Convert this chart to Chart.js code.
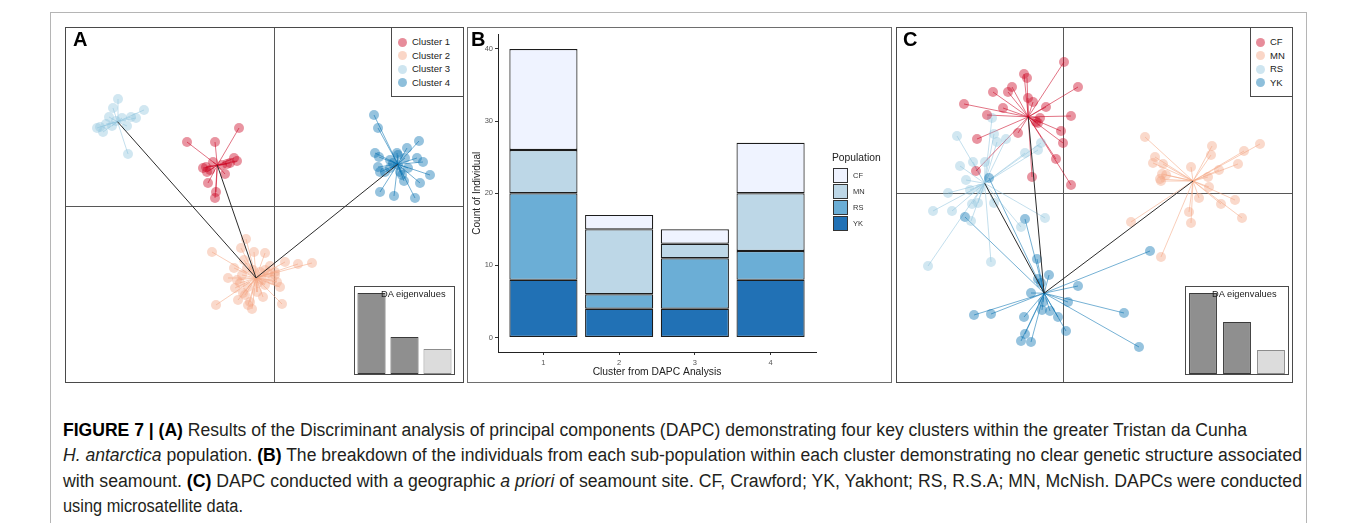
<!DOCTYPE html>
<html>
<head>
<meta charset="utf-8">
<script src="https://cdn.jsdelivr.net/npm/chart.js@4.4.1/dist/chart.umd.min.js"></script>
<style>
  html, body { margin: 0; padding: 0; background: #fff; }
  #fig { position: relative; width: 1357px; height: 523px; overflow: hidden;
         font-family: "Liberation Sans", Arial, sans-serif; color: #222; }
  .abs { position: absolute; box-sizing: border-box; white-space: nowrap; }
  canvas { position: absolute; display: block; }
  .cap { font-size: 18px; line-height: 20px; color: #231f20; transform-origin: 0 0; }
  .cap b { color: #000; }
</style>
</head>
<body>
<div id="fig"></div>
<script>
// ---------- Panel A: DAPC on the four inferred clusters (LD1, LD2) ----------
const clusterNames = ['Cluster 1', 'Cluster 2', 'Cluster 3', 'Cluster 4'];
const cluster1 = [[-8.8,6.4],[-6.0,6.4],[-3.6,7.8],[-7.2,3.8],[-6.8,3.4],[-6.7,2.3],[-6.2,4.4],[-5.0,3.2],
  [-4.8,4.2],[-4.5,4.3],[-4.1,4.8],[-3.8,4.5],[-5.9,1.4],[-6.0,0.8],[-6.5,3.6],[-5.3,4.1],[-6.9,3.9]];
const cluster2 = [[-2.9,-3.3],[-3.4,-4.2],[-2.1,-4.6],[-1.0,-4.7],[-6.3,-4.6],[-3.1,-5.4],[1.0,-5.6],[2.3,-5.8],
  [3.7,-5.7],[-4.1,-6.2],[-3.3,-6.9],[-3.8,-7.4],[-1.0,-6.4],[0.0,-6.9],[0.2,-7.6],[-0.3,-7.4],[0.5,-8.1],
  [-4.0,-8.2],[-2.7,-8.1],[-3.0,-8.9],[-3.2,-8.7],[-1.8,-8.6],[-1.2,-9.1],[-3.7,-9.4],[-2.5,-9.6],[-2.7,-9.9],
  [-2.3,-10.3],[-5.9,-9.9],[0.7,-9.8],[-1.5,-6.6],[-2.2,-6.4],[-0.7,-6.7],[-2.8,-6.2],[-4.7,-7.2],[-1.3,-7.4],
  [-1.7,-7.7],[-1.0,-7.9],[-3.5,-7.7],[0.0,-6.6],[-0.5,-6.0]];
const cluster3 = [[-15.7,10.7],[-16.2,9.8],[-16.6,8.9],[-17.5,7.9],[-17.2,7.4],[-17.8,7.8],[-14.4,8.9],[-13.9,8.8],
  [-13.1,9.6],[-14.8,8.0],[-14.7,5.2],[-15.9,8.5],[-16.9,8.2],[-15.3,8.8],[-16.3,8.0]];
const cluster4 = [[9.9,9.1],[10.3,7.8],[14.4,6.5],[13.2,5.8],[10.0,5.3],[10.4,4.9],[12.3,5.1],[14.2,4.8],[14.8,4.4],
  [11.5,4.6],[10.3,3.9],[10.5,3.4],[15.5,3.1],[14.5,2.3],[12.9,2.5],[12.7,3.1],[10.5,1.4],[11.9,1.0],[14.0,0.8],
  [11.5,3.8],[13.3,3.8],[12.3,4.1],[13.0,4.8],[12.2,5.3],[11.0,3.4],[12.5,3.4],[11.8,4.3]];
const clusterLinks = [[1,0],[1,2],[1,3]];          // minimum spanning tree between group centres
const clusterEigen = [81, 37, 25];
const clusterRetained = 2;

// ---------- Panel B: sub-population make-up of each cluster ----------
const dapcClusters = ['1', '2', '3', '4'];
const countTicks = [0, 10, 20, 30, 40];
const countYK = [8, 4, 4, 8];
const countRS = [12, 2, 7, 4];
const countMN = [6, 9, 2, 8];
const countCF = [14, 2, 2, 7];

// ---------- Panel C: DAPC with seamount site as prior ----------
const siteNames = ['CF', 'MN', 'RS', 'YK'];
const siteCF = [[0.1,13.1],[1.5,10.6],[-3.9,11.9],[-3.6,11.5],[-5.1,10.6],[-5.5,10.1],[-7.0,10.1],[-9.9,8.9],
  [-6.0,8.5],[-7.6,7.8],[-3.5,9.5],[-1.7,8.6],[0.8,7.7],[-2.3,7.5],[-2.7,7.1],[-2.5,7.0],[-0.2,6.2],[0.0,5.0],
  [-4.5,6.0],[-8.6,5.4],[-0.7,3.4],[-8.7,2.2],[-3.1,1.6],[0.8,0.8],[-3.0,9.1]];
const siteMN = [[8.2,5.6],[14.9,4.7],[14.8,3.8],[19.7,4.9],[18.1,4.2],[17.5,2.9],[9.2,3.6],[9.0,3.0],[10.0,2.9],
  [12.8,2.6],[15.6,2.3],[14.5,1.6],[9.9,1.9],[10.3,1.8],[9.8,1.2],[14.6,0.6],[13.6,-0.5],[15.8,-1.1],[17.2,-0.7],
  [12.6,-1.9],[12.8,-3.0],[17.9,-2.5],[6.8,-2.9],[9.8,-6.4],[9.7,1.4]];
const siteRS = [[-7.1,7.5],[-10.6,5.7],[-6.9,5.9],[-6.6,5.1],[-5.7,5.4],[-3.8,4.0],[-2.5,4.3],[-2.2,5.0],
  [-10.3,2.7],[-9.0,3.1],[-7.8,3.1],[-9.7,1.3],[-11.5,0.0],[-13.0,-1.8],[-11.1,-1.8],[-9.1,-1.1],[-8.5,-1.0],
  [-6.9,-1.0],[-9.2,-2.8],[-4.2,-3.4],[-1.8,-2.5],[-13.5,-7.3],[-7.2,-6.9],[-9.3,0.3],[-8.3,0.4]];
const siteYK = [[-2.6,-6.6],[-1.4,-8.2],[-2.5,-8.6],[-2.2,-9.0],[1.5,-9.3],[8.7,-5.8],[-3.2,-10.0],[0.5,-10.9],
  [-8.9,-12.2],[-7.2,-12.1],[-2.0,-10.9],[-2.1,-11.7],[-1.3,-11.8],[-3.9,-12.4],[-0.5,-12.4],[6.1,-12.0],
  [0.3,-13.8],[-3.8,-14.1],[-4.2,-14.8],[-3.2,-14.9],[7.6,-15.4],[-9.8,-2.4],[-3.8,-2.6],[-7.4,1.5]];
const siteLinks = [[3,0],[3,1],[3,2]];
const siteEigen = [81, 52, 24];
const siteRetained = 2;

// four-class palette (RdBu)
const classRGB = [[202,0,32],[244,165,130],[146,197,222],[5,113,176]];
const rgba = (i, a) => `rgba(${classRGB[i].join(',')},${a})`;
const popColours = { CF: '#eff3ff', MN: '#bdd7e7', RS: '#6baed6', YK: '#2171b5' };

Chart.defaults.font.family = '"Liberation Sans", Arial, sans-serif';

const fig = document.getElementById('fig');
function box(css, html) {
  const e = document.createElement('div');
  e.className = 'abs';
  Object.assign(e.style, css);
  if (html != null) e.innerHTML = html;
  fig.appendChild(e);
  return e;
}
function canvasAt(l, t, w, h) {
  const c = document.createElement('canvas');
  c.width = w; c.height = h;
  Object.assign(c.style, { left: l + 'px', top: t + 'px', width: w + 'px', height: h + 'px' });
  fig.appendChild(c);
  return c.getContext('2d');
}
const px = v => v + 'px';

// outer figure border
box({ left: '50px', top: '12px', width: '1257px', height: '530px', border: '1px solid #b5b5b5' });

// ---------- scatter panel (ade4 s.class style) ----------
function scatterPanel(cfg) {
  const f = cfg.frame;
  box({ left: px(f.l), top: px(f.t), width: px(f.w), height: px(f.h), border: '1px solid #4a4a4a', background: '#fff' });
  const cw = f.w - 2, ch = f.h - 2;
  const ctx = canvasAt(f.l + 1, f.t + 1, cw, ch);

  const centres = cfg.sets.map(pts => [
    pts.reduce((s, p) => s + p[0], 0) / pts.length,
    pts.reduce((s, p) => s + p[1], 0) / pts.length
  ]);
  const gap = { x: null, y: null };
  const datasets = [];
  const tree = [];
  cfg.links.forEach(([a, b]) => {
    tree.push({ x: centres[a][0], y: centres[a][1] }, { x: centres[b][0], y: centres[b][1] }, gap);
  });
  datasets.push({ data: tree, showLine: true, pointRadius: 0, borderColor: '#2b2b2b', borderWidth: 1, spanGaps: false, order: 0 });
  cfg.sets.forEach((pts, g) => {
    datasets.push({
      data: pts.map(p => ({ x: p[0], y: p[1] })), showLine: false, pointRadius: 5,
      pointBackgroundColor: rgba(g, 0.42), pointBorderColor: 'rgba(0,0,0,0)', pointBorderWidth: 0, order: 1
    });
    const star = [];
    pts.forEach(p => star.push({ x: centres[g][0], y: centres[g][1] }, { x: p[0], y: p[1] }, gap));
    datasets.push({ data: star, showLine: true, pointRadius: 0, borderColor: rgba(g, 0.55), borderWidth: 1, spanGaps: false, order: 2 });
  });

  const zeroAxis = range => ({
    type: 'linear', min: range[0], max: range[1],
    ticks: { display: false }, border: { display: false },
    grid: { drawTicks: false, lineWidth: 1, color: c => (c.tick && c.tick.value === 0) ? '#575757' : 'rgba(0,0,0,0)' },
    afterBuildTicks: s => { s.ticks = [{ value: 0 }]; }
  });
  new Chart(ctx, {
    type: 'scatter',
    data: { datasets },
    options: {
      responsive: false, animation: false, events: [],
      layout: { padding: 0, autoPadding: false },
      plugins: { legend: { display: false }, tooltip: { enabled: false } },
      scales: { x: zeroAxis(cfg.xRange), y: zeroAxis(cfg.yRange) }
    }
  });

  // panel letter
  box({ left: px(cfg.letterX), top: '28px', font: 'bold 20px "Liberation Sans", Arial, sans-serif', lineHeight: '22px', color: '#000' }, cfg.letter);

  // class legend
  const L = cfg.legend;
  box({ left: px(L.l), top: px(f.t), width: px(L.w), height: '70px', border: '1px solid #4a4a4a', background: '#fff' });
  cfg.names.forEach((name, g) => {
    const cy = 42 + g * 13.5;
    box({ left: px(L.dotX - 4.5), top: px(cy - 4.5), width: '9px', height: '9px', borderRadius: '50%', background: rgba(g, 0.45) });
    box({ left: px(L.textX), top: px(cy - 6), fontSize: '9.5px', lineHeight: '12px', color: '#222' }, name);
  });

  // eigenvalue inset
  const E = cfg.eig;
  box({ left: px(E.l), top: '286px', width: px(E.w), height: '89px', border: '1px solid #4a4a4a', background: '#fff' });
  const ectx = canvasAt(E.l + 1, 287, E.w - 2, 87);
  new Chart(ectx, {
    type: 'bar',
    data: {
      labels: cfg.eigen.map((_, i) => String(i + 1)),
      datasets: [{
        data: cfg.eigen,
        backgroundColor: cfg.eigen.map((_, i) => i < cfg.retained ? '#8f8f8f' : '#dcdcdc'),
        borderColor: cfg.eigen.map((_, i) => i < cfg.retained ? '#3a3a3a' : '#8c8c8c'),
        borderWidth: 1, borderSkipped: false, barPercentage: E.bar, categoryPercentage: 1
      }]
    },
    options: {
      responsive: false, animation: false, events: [], layout: { padding: 0, autoPadding: false },
      plugins: { legend: { display: false }, tooltip: { enabled: false } },
      scales: { x: { display: false }, y: { display: false, min: 0, max: Math.max(...cfg.eigen) * 1.075 } }
    }
  });
  box({ left: px(E.titleX), top: '290px', fontSize: '9.3px', lineHeight: '9.3px', color: '#222' }, 'DA eigenvalues');
}

scatterPanel({
  frame: { l: 65, t: 27, w: 399, h: 356 },
  xRange: [-20.9, 18.8], yRange: [-17.6, 17.8],
  sets: [cluster1, cluster2, cluster3, cluster4], names: clusterNames, links: clusterLinks,
  eigen: clusterEigen, retained: clusterRetained,
  letter: 'A', letterX: 73,
  legend: { l: 391, w: 73, dotX: 402, textX: 412 },
  eig: { l: 354, w: 101, bar: 0.85, titleX: 381 }
});

scatterPanel({
  frame: { l: 896, t: 27, w: 397, h: 356 },
  xRange: [-16.6, 22.9], yRange: [-18.9, 16.5],
  sets: [siteCF, siteMN, siteRS, siteYK], names: siteNames, links: siteLinks,
  eigen: siteEigen, retained: siteRetained,
  letter: 'C', letterX: 903,
  legend: { l: 1250, w: 43, dotX: 1260, textX: 1270 },
  eig: { l: 1185, w: 104, bar: 0.82, titleX: 1212 }
});

// ---------- Panel B: stacked bars ----------
box({ left: '467px', top: '27px', width: '425px', height: '356px', border: '1px solid #6e6e6e', background: '#fff' });
const bctx = canvasAt(468, 28, 423, 354);
const stackOrder = [['YK', countYK], ['RS', countRS], ['MN', countMN], ['CF', countCF]];
const totals = dapcClusters.map((_, i) => stackOrder.reduce((s, [, arr]) => s + arr[i], 0));
const yPad = 0.05 * Math.max(...totals);
new Chart(bctx, {
  type: 'bar',
  data: {
    datasets: stackOrder.map(([name, arr]) => ({
      label: name,
      data: arr.map((v, i) => ({ x: i + 1, y: v })),
      backgroundColor: popColours[name],
      borderColor: '#1c1c1c', borderWidth: 1.2, borderSkipped: false,
      categoryPercentage: 0.9, barPercentage: 1
    }))
  },
  options: {
    responsive: false, animation: false, events: [],
    layout: { padding: { left: 0, right: 75, top: 5, bottom: 0 }, autoPadding: false },
    plugins: { legend: { display: false }, tooltip: { enabled: false } },
    scales: {
      x: {
        type: 'linear', stacked: true, offset: false, min: 1 - 0.6, max: dapcClusters.length + 0.6,
        afterBuildTicks: s => { s.ticks = dapcClusters.map((_, i) => ({ value: i + 1 })); },
        afterFit: s => { s.height = 30; },
        ticks: { callback: (v, i) => dapcClusters[i], color: '#555', font: { size: 7.5 }, padding: 3, maxRotation: 0 },
        grid: { display: true, offset: false, drawOnChartArea: false, drawTicks: true, tickLength: 3, tickColor: '#333' },
        border: { display: true, color: '#222', width: 1 },
        title: { display: true, text: 'Cluster from DAPC Analysis', color: '#222', font: { size: 10.3 }, padding: { top: 0, bottom: 4 } }
      },
      y: {
        stacked: true, min: -yPad, max: Math.max(...totals) + yPad,
        afterBuildTicks: s => { s.ticks = countTicks.map(v => ({ value: v })); },
        afterFit: s => { s.width = 30; },
        ticks: { color: '#555', font: { size: 7.5 }, padding: 2 },
        grid: { display: true, drawOnChartArea: false, drawTicks: true, tickLength: 3, tickColor: '#333' },
        border: { display: true, color: '#222', width: 1 },
        title: { display: true, text: 'Count of Individual', color: '#222', font: { size: 10 }, padding: { top: 3, bottom: 0 } }
      }
    }
  }
});
box({ left: '471px', top: '28px', font: 'bold 20px "Liberation Sans", Arial, sans-serif', lineHeight: '22px', color: '#000' }, 'B');

// population legend
box({ left: '832px', top: '151px', fontSize: '10.3px', lineHeight: '13px', color: '#222' }, 'Population');
['CF', 'MN', 'RS', 'YK'].forEach((name, i) => {
  const top = 168 + i * 16;
  box({ left: '833px', top: px(top), width: '15px', height: '15px', border: '1px solid #333', background: popColours[name] });
  box({ left: '853px', top: px(top + 3), fontSize: '7.5px', lineHeight: '9px', color: '#333' }, name);
});

// ---------- caption ----------
const captionLines = [
  ['<b>FIGURE 7 | (A)</b> Results of the Discriminant analysis of principal components (DAPC) demonstrating four key clusters within the greater Tristan da Cunha', 1184],
  ['<i>H. antarctica</i> population. <b>(B)</b> The breakdown of the individuals from each sub-population within each cluster demonstrating no clear genetic structure associated', 1239],
  ['with seamount. <b>(C)</b> DAPC conducted with a geographic <i>a priori</i> of seamount site. CF, Crawford; YK, Yakhont; RS, R.S.A; MN, McNish. DAPCs were conducted', 1239],
  ['using microsatellite data.', 180]
];
captionLines.forEach(([html, width], i) => {
  const e = box({ left: '63px', top: px(419.5 + i * 25.5) }, html);
  e.classList.add('cap');
  const w = e.getBoundingClientRect().width;
  e.style.transform = `scaleX(${width / w})`;
});
</script>
</body>
</html>
